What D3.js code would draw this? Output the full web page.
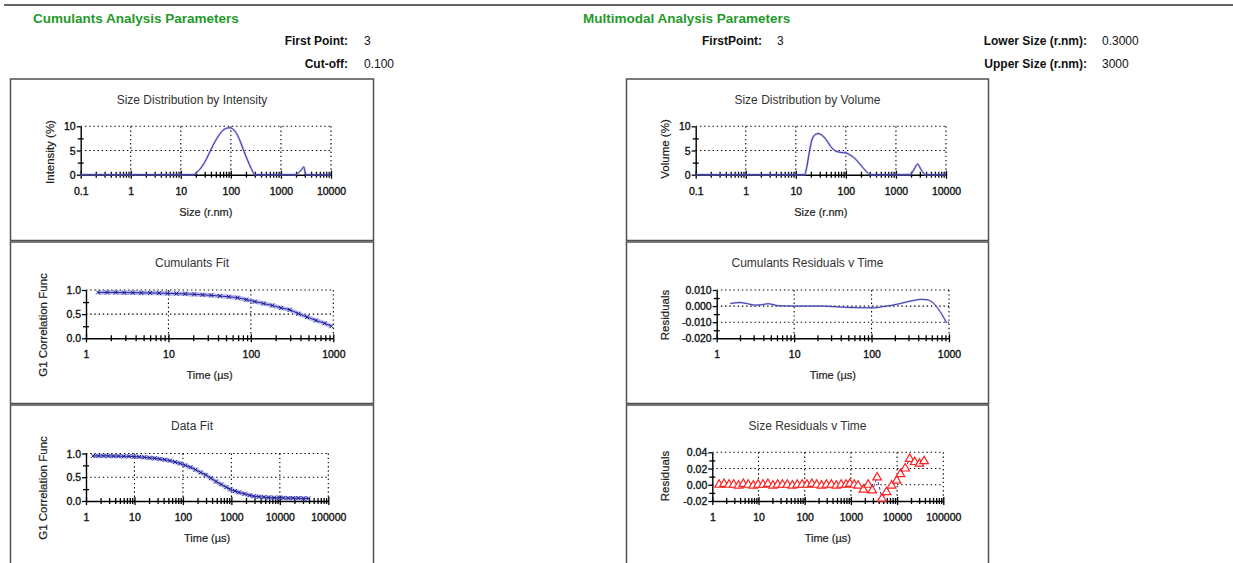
<!DOCTYPE html>
<html>
<head>
<meta charset="utf-8">
<script src="https://cdn.jsdelivr.net/npm/d3@7"></script>
<style>
body{margin:0;background:#fff}
text{font-family:"Liberation Sans",Arial,sans-serif}
</style>
</head>
<body>
<svg id="chart" width="1233" height="563"></svg>
<script>
// size distributions (r.nm, %)
const intensitySize = [0.1, 17.5, 22, 27, 33, 40, 48, 58, 70, 82, 95, 110, 130, 155, 180, 215, 255, 305, 1950, 2300, 2600, 2850, 3150, 10000]
const intensityPct  = [0, 0, 0.7, 1.8, 3.4, 5.2, 6.8, 8.2, 9.2, 9.6, 9.7, 9.4, 8.5, 6.8, 5.0, 3.0, 1.3, 0, 0, 0.5, 1.1, 1.6, 0, 0]
const volumeSize = [0.1, 15, 16.5, 18.5, 21, 24.5, 28, 33, 40, 50, 62, 80, 100, 120, 150, 190, 240, 305, 1900, 2300, 2700, 3200, 3900, 10000]
const volumePct  = [0, 0, 1.5, 4.5, 7.2, 8.3, 8.5, 8.2, 7.3, 5.8, 4.9, 4.6, 4.5, 4.1, 3.4, 2.2, 1.0, 0, 0, 1.1, 2.2, 1.0, 0, 0]

// correlator delay times (µs)
const corrTime = [1.4, 1.8, 2.3, 2.9, 3.7, 4.7, 6.0, 7.7, 9.8, 12.5, 16, 20.5, 26, 33, 42, 54, 69, 88, 112, 143, 182, 232, 296, 378, 482, 615, 785, 950,
  1180, 1430, 1870, 2370, 2900, 3700, 4700, 5900, 7600, 9800, 11800, 15000, 18700, 24000, 30500, 38500]
const cumulantsG1 = [0.95, 0.95, 0.95, 0.945, 0.945, 0.94, 0.94, 0.935, 0.93, 0.925, 0.92, 0.91, 0.9, 0.89, 0.875, 0.86, 0.84, 0.8, 0.76, 0.72, 0.68, 0.63, 0.59, 0.51, 0.44, 0.37, 0.31, 0.25]
const dataG1 = [0.95, 0.95, 0.95, 0.95, 0.945, 0.945, 0.94, 0.94, 0.935, 0.93, 0.92, 0.91, 0.9, 0.885, 0.87, 0.85, 0.82, 0.79, 0.75, 0.71, 0.66, 0.6, 0.55, 0.48, 0.41, 0.35, 0.29, 0.245,
  0.21, 0.18, 0.15, 0.12, 0.1, 0.09, 0.08, 0.075, 0.07, 0.07, 0.065, 0.06, 0.06, 0.06, 0.055, 0.055]
const sizeResidual = [0, 0.001, 0, 0, -0.001, 0.001, 0, -0.001, 0, 0, 0.001, -0.001, 0, 0, 0, -0.001, 0, 0, 0, 0.001, 0, -0.001, 0, 0, -0.001, 0, 0, 0.001,
  0, -0.001, -0.006, 0, -0.007, 0.009, -0.017, -0.009, -0.001, 0.005, 0.013, 0.02, 0.032, 0.028, 0.026, 0.029]

// cumulants residuals
const residTime  = [1.5, 2, 2.5, 3.1, 3.8, 4.6, 5.5, 6.2, 8, 10, 15, 24, 40, 66, 108, 140, 178, 230, 290, 360, 430, 520, 600, 720, 820, 930]
const residValue = [0.0016, 0.0022, 0.0015, 0.0006, 0.0008, 0.0015, 0.0008, 0.0002, 0.0001, 0, 0, 0, -0.0006, -0.001, -0.0011, -0.0003, 0.0004, 0.0015, 0.0027, 0.0036, 0.0042, 0.004, 0.0027, -0.0015, -0.0056, -0.0104]

const leftParams = [["First Point:", "3"], ["Cut-off:", "0.100"]]
const rightParams = [["FirstPoint:", "3"]]
const sizeParams = [["Lower Size (r.nm):", "0.3000"], ["Upper Size (r.nm):", "3000"]]

const svg = d3.select("#chart")
const green = "#1f9a2a"

// top rule
svg.append("line").attr("x1", 4).attr("x2", 1233).attr("y1", 5).attr("y2", 5)
    .attr("stroke", "#333").attr("stroke-width", 1.6)

// header texts
svg.append("text").attr("x", 33).attr("y", 23).attr("fill", green)
    .style("font-size", "13.5px").style("font-weight", "bold").text("Cumulants Analysis Parameters")
svg.append("text").attr("x", 583).attr("y", 23).attr("fill", green)
    .style("font-size", "13.5px").style("font-weight", "bold").text("Multimodal Analysis Parameters")

function params(list, xr, xv, y0){
    list.forEach((p, i) => {
        svg.append("text").attr("x", xr).attr("y", y0 + i * 23).attr("text-anchor", "end")
            .style("font-size", "12px").style("font-weight", "bold").attr("fill", "#111").text(p[0])
        svg.append("text").attr("x", xv).attr("y", y0 + i * 23)
            .style("font-size", "12px").attr("fill", "#111").text(p[1])
    })
}
params(leftParams, 348, 364, 45)
params(rightParams, 762, 777, 45)
params(sizeParams, 1087, 1102, 45)

function isDecade(d){
    return Math.abs(Math.log10(d) - Math.round(Math.log10(d))) < 1e-9
}

// small labels look a bit heavier in the report
function heavy(sel, w){
    sel.attr("stroke", "#111").attr("stroke-width", w).attr("paint-order", "stroke")
}

function panel(o){
    const g = svg.append("g")
    g.append("rect").attr("x", o.bx).attr("y", o.by).attr("width", o.bw).attr("height", 161.5)
        .attr("fill", "none").attr("stroke", "#505050").attr("stroke-width", 1.5)

    const x = d3.scaleLog().domain(o.xDomain).range([o.left, o.left + o.width])
    const y = d3.scaleLinear().domain(o.yDomain).range([o.top + o.height, o.top])
    const bottom = o.top + o.height

    g.append("text").attr("x", o.bx + o.bw / 2).attr("y", o.by + 25).attr("text-anchor", "middle")
        .style("font-size", "12px").attr("fill", "#333").text(o.title)

    // dotted grid
    const decades = x.ticks().filter(isDecade).filter(d => d > o.xDomain[0])
    g.selectAll(".vg").data(decades).enter().append("line")
        .attr("x1", d => x(d)).attr("x2", d => x(d)).attr("y1", o.top).attr("y2", bottom)
        .attr("stroke", "#000").attr("stroke-width", 1.1).attr("stroke-dasharray", "1.4,2.8")
    g.selectAll(".hg").data(o.yMajor.filter(d => d > o.yDomain[0])).enter().append("line")
        .attr("x1", o.left).attr("x2", o.left + o.width).attr("y1", d => y(d)).attr("y2", d => y(d))
        .attr("stroke", "#000").attr("stroke-width", 1.1).attr("stroke-dasharray", "1.4,2.8")

    // x axis
    const xa = g.append("g").attr("transform", `translate(0,${bottom})`)
        .call(d3.axisBottom(x).tickValues(x.ticks()).tickFormat(d => isDecade(d) ? String(d) : "").tickSizeOuter(0))
    xa.select(".domain").attr("stroke", "#000").attr("stroke-width", 1.4)
    xa.selectAll(".tick line").attr("y1", d => isDecade(d) ? -4 : -3).attr("y2", d => isDecade(d) ? 4 : 3)
        .attr("stroke-width", 1.3)
    xa.selectAll(".tick text").attr("y", 20).attr("dy", 0).style("font-size", "10.5px").attr("fill", "#111")
        .style("font-family", "Liberation Sans, Arial, sans-serif").call(heavy, 0.35)

    // y axis
    const ya = g.append("g").attr("transform", `translate(${o.left},0)`)
        .call(d3.axisLeft(y).tickValues(o.yMajor.concat(o.yMinor))
            .tickFormat(d => o.yMajor.includes(d) ? o.yFmt(d) : "").tickSizeOuter(0))
    ya.select(".domain").attr("stroke", "#000").attr("stroke-width", 1.4)
    ya.selectAll(".tick line").attr("x1", d => o.yMajor.includes(d) ? 0 : 3).attr("x2", d => o.yMajor.includes(d) ? -4 : -3)
        .attr("stroke-width", 1.3)
    ya.selectAll(".tick text").attr("x", -5).attr("dy", "0.35em").style("font-size", "10.5px").attr("fill", "#111")
        .style("font-family", "Liberation Sans, Arial, sans-serif").call(heavy, 0.35)

    g.append("text").attr("x", o.left + o.width / 2).attr("y", o.by + o.xTitleDy).attr("text-anchor", "middle")
        .style("font-size", "11px").attr("fill", "#222").text(o.xTitle).call(heavy, 0.2)
    g.append("text").attr("transform", `translate(${o.yTitleX},${o.yTitleY}) rotate(-90)`).attr("text-anchor", "middle")
        .style("font-size", "11.5px").attr("fill", "#222").text(o.yTitle).call(heavy, 0.2)

    o.draw(g, x, y)
}

function distLine(xs, ys){
    return (g, x, y) => {
        const line = d3.line().x(d => x(xs[d])).y(d => y(ys[d])).curve(d3.curveMonotoneX)
        g.append("path").attr("d", line(d3.range(xs.length))).attr("fill", "none")
            .attr("stroke", "#8a8ad8").attr("stroke-width", 2.2).attr("stroke-opacity", 0.6)
        g.append("path").attr("d", line(d3.range(xs.length))).attr("fill", "none")
            .attr("stroke", "#3535a8").attr("stroke-width", 1)
    }
}

function fitMarks(xs, ys){
    return (g, x, y) => {
        const idx = d3.range(ys.length)
        const line = d3.line().x(d => x(xs[d])).y(d => y(ys[d])).curve(d3.curveMonotoneX)
        g.append("path").attr("d", line(idx)).attr("fill", "none")
            .attr("stroke", "#8484dc").attr("stroke-width", 4.5).attr("stroke-opacity", 0.55)
        g.append("path").attr("d", line(idx)).attr("fill", "none")
            .attr("stroke", "#2323a0").attr("stroke-width", 1)
        g.selectAll(".mk").data(idx).enter().append("path")
            .attr("transform", d => `translate(${x(xs[d])},${y(ys[d])})`)
            .attr("d", "M-2,-2L2,2M-2,2L2,-2").attr("stroke", "#1a1a90").attr("stroke-width", 1)
    }
}

function residLine(xs, ys){
    return (g, x, y) => {
        const line = d3.line().x(d => x(xs[d])).y(d => y(ys[d])).curve(d3.curveMonotoneX)
        g.append("path").attr("d", line(d3.range(xs.length))).attr("fill", "none")
            .attr("stroke", "#8a8ad8").attr("stroke-width", 2).attr("stroke-opacity", 0.5)
        g.append("path").attr("d", line(d3.range(xs.length))).attr("fill", "none")
            .attr("stroke", "#3838aa").attr("stroke-width", 1)
    }
}

function triangles(xs, ys){
    return (g, x, y) => {
        const idx = d3.range(ys.length)
        const line = d3.line().x(d => x(xs[d])).y(d => y(ys[d]))
        g.append("path").attr("d", line(idx)).attr("fill", "none")
            .attr("stroke", "#3a3ab8").attr("stroke-width", 1).attr("stroke-dasharray", "3,2")
        g.selectAll(".tri").data(idx).enter().append("path")
            .attr("transform", d => `translate(${x(xs[d])},${y(ys[d])})`)
            .attr("d", d3.symbol(d3.symbolTriangle, 32)).attr("fill", "#fff")
            .attr("stroke", "#ff2020").attr("stroke-width", 1.2)
    }
}

const f0 = d => String(d)
const f1 = d => d.toFixed(1)
const f2 = d => d.toFixed(2)
const f3 = d => d.toFixed(3)

panel({bx: 10.5, by: 79, bw: 363, left: 80.7, width: 250.3, top: 126.3, height: 48.4,
    xDomain: [0.1, 10000], yDomain: [0, 10], yMajor: [0, 5, 10], yMinor: [2.5, 7.5], yFmt: f0,
    title: "Size Distribution by Intensity", xTitle: "Size (r.nm)", xTitleDy: 137,
    yTitle: "Intensity (%)", yTitleX: 54, yTitleY: 152, draw: distLine(intensitySize, intensityPct)})

panel({bx: 626.5, by: 79, bw: 362, left: 695.7, width: 250.3, top: 126.3, height: 48.4,
    xDomain: [0.1, 10000], yDomain: [0, 10], yMajor: [0, 5, 10], yMinor: [2.5, 7.5], yFmt: f0,
    title: "Size Distribution by Volume", xTitle: "Size (r.nm)", xTitleDy: 137,
    yTitle: "Volume (%)", yTitleX: 669, yTitleY: 149, draw: distLine(volumeSize, volumePct)})

panel({bx: 10.5, by: 242, bw: 363, left: 86, width: 247.3, top: 290, height: 48.3,
    xDomain: [1, 1000], yDomain: [0, 1], yMajor: [0, 0.5, 1], yMinor: [0.25, 0.75], yFmt: f1,
    title: "Cumulants Fit", xTitle: "Time (µs)", xTitleDy: 137,
    yTitle: "G1 Correlation Func", yTitleX: 47, yTitleY: 325, draw: fitMarks(corrTime, cumulantsG1)})

panel({bx: 626.5, by: 242, bw: 362, left: 716.7, width: 232.3, top: 290, height: 48.3,
    xDomain: [1, 1000], yDomain: [-0.02, 0.01], yMajor: [-0.02, -0.01, 0, 0.01], yMinor: [-0.015, -0.005, 0.005], yFmt: f3,
    title: "Cumulants Residuals v Time", xTitle: "Time (µs)", xTitleDy: 137,
    yTitle: "Residuals", yTitleX: 669, yTitleY: 315, draw: residLine(residTime, residValue)})

panel({bx: 10.5, by: 405, bw: 363, left: 86, width: 242.3, top: 453.5, height: 47.5,
    xDomain: [1, 100000], yDomain: [0, 1], yMajor: [0, 0.5, 1], yMinor: [0.25, 0.75], yFmt: f1,
    title: "Data Fit", xTitle: "Time (µs)", xTitleDy: 137,
    yTitle: "G1 Correlation Func", yTitleX: 47, yTitleY: 488, draw: fitMarks(corrTime, dataG1)})

panel({bx: 626.5, by: 405, bw: 362, left: 712.3, width: 231, top: 452.3, height: 48.7,
    xDomain: [1, 100000], yDomain: [-0.02, 0.04], yMajor: [-0.02, 0, 0.02, 0.04], yMinor: [-0.01, 0.01, 0.03], yFmt: f2,
    title: "Size Residuals v Time", xTitle: "Time (µs)", xTitleDy: 137,
    yTitle: "Residuals", yTitleX: 669, yTitleY: 476, draw: triangles(corrTime, sizeResidual)})
</script>
</body>
</html>
